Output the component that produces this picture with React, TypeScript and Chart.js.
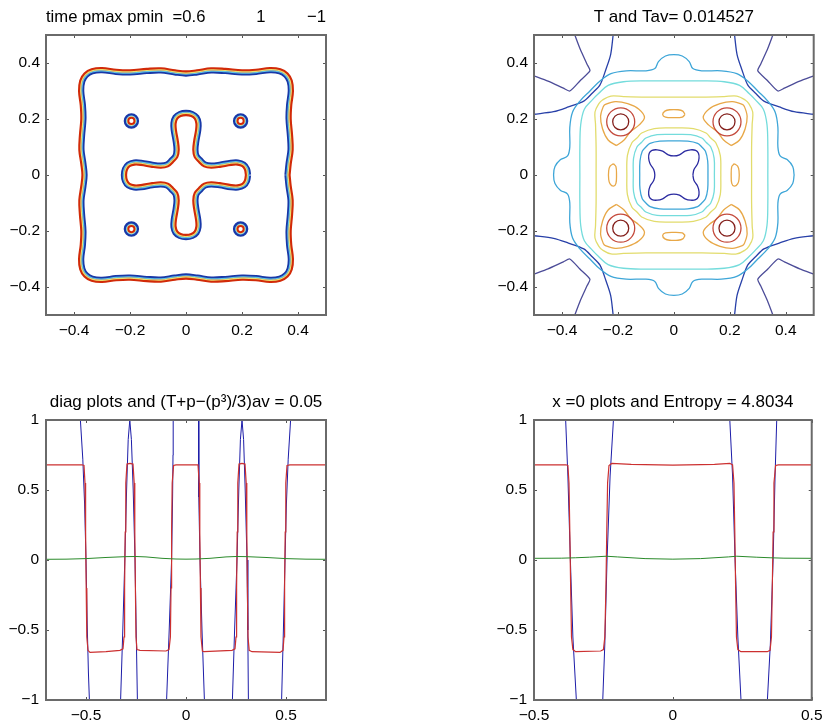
import React, { useEffect, useRef } from "react";
import { Chart, registerables } from "chart.js";

Chart.register(...registerables);

type P = [number, number];

const FONT = "'Liberation Sans', Arial, Helvetica, sans-serif";

// ---------------- titles ----------------
const titleA = "time pmax pmin  =0.6" + " ".repeat(11) + "1" + " ".repeat(9) + "\u22121";
const titleB = "T and Tav= 0.014527";
const titleC = "diag plots and (T+p\u2212(p\u00B3)/3)av = 0.05";
const titleD = "x =0 plots and Entropy = 4.8034";

// ---------------- tick values ----------------
const fieldTicks = [-0.4, -0.2, 0, 0.2, 0.4];
const diagXTicks = [-0.5, 0, 0.5];
const x0XTicks = [-0.5, 0, 0.5];
const lineYTicks = [-1, -0.5, 0, 0.5, 1];

// ---------------- panel A: phase field p (first-quadrant readings, 4-fold symmetric) ----------------
const squareQ: P[] = [
  [0.362, 0], [0.366, 0.04], [0.373, 0.09], [0.371, 0.14], [0.366, 0.2], [0.368, 0.25], [0.374, 0.3],
  [0.37, 0.335], [0.357, 0.357], [0.335, 0.37], [0.3, 0.374], [0.25, 0.368], [0.2, 0.366],
  [0.14, 0.371], [0.09, 0.373], [0.04, 0.366], [0, 0.362],
];
const crossQ: P[] = [
  [0.222, 0], [0.218, 0.022], [0.206, 0.038], [0.185, 0.045], [0.16, 0.044], [0.12, 0.037], [0.09, 0.034],
  [0.068, 0.038], [0.052, 0.052], [0.038, 0.068], [0.034, 0.09], [0.037, 0.12], [0.044, 0.16],
  [0.045, 0.185], [0.038, 0.206], [0.022, 0.218], [0, 0.222],
];
const dropCenters: P[] = [[-0.195, 0.193], [0.195, 0.193], [-0.195, -0.193], [0.195, -0.193]];

// ---------------- panel B: temperature T contours ----------------
const cornerSlateTL: P[] = [
  [-0.354, 0.5], [-0.335, 0.45], [-0.31, 0.395], [-0.3, 0.372], [-0.336, 0.336], [-0.372, 0.3],
  [-0.395, 0.31], [-0.45, 0.335], [-0.5, 0.354],
];
const cornerBlueTL: P[] = [
  [-0.217, 0.5], [-0.226, 0.43], [-0.243, 0.377], [-0.264, 0.322], [-0.292, 0.292], [-0.322, 0.264],
  [-0.377, 0.243], [-0.43, 0.226], [-0.5, 0.217],
];
const cyanOuterQ: P[] = [
  [0.43, 0], [0.425, 0.03], [0.405, 0.055], [0.38, 0.068], [0.372, 0.1], [0.372, 0.17], [0.362, 0.225],
  [0.335, 0.265], [0.3, 0.3], [0.265, 0.335], [0.225, 0.362], [0.17, 0.372], [0.1, 0.372],
  [0.068, 0.38], [0.055, 0.405], [0.03, 0.425], [0, 0.43],
];
const aquaOuterQ: P[] = [
  [0.336, 0], [0.336, 0.1], [0.333, 0.18], [0.32, 0.235], [0.29, 0.27], [0.27, 0.29], [0.235, 0.32],
  [0.18, 0.333], [0.1, 0.336], [0, 0.336],
];
const yellowOuterQ: P[] = [
  [0.278, 0], [0.278, 0.1], [0.28, 0.18], [0.282, 0.225], [0.268, 0.255], [0.255, 0.268], [0.225, 0.282],
  [0.18, 0.28], [0.1, 0.278], [0, 0.278],
];
const yellowInnerQ: P[] = [
  [0.168, 0], [0.166, 0.07], [0.15, 0.115], [0.132, 0.132], [0.115, 0.15], [0.07, 0.166], [0, 0.168],
];
const aquaInnerQ: P[] = [
  [0.145, 0], [0.144, 0.06], [0.132, 0.1], [0.116, 0.116], [0.1, 0.132], [0.06, 0.144], [0, 0.145],
];
const cyanInnerQ: P[] = [
  [0.122, 0], [0.121, 0.05], [0.113, 0.085], [0.1, 0.1], [0.085, 0.113], [0.05, 0.121], [0, 0.122],
];
const blueInnerQ: P[] = [
  [0.068, 0], [0.072, 0.02], [0.085, 0.04], [0.09, 0.06], [0.088, 0.078], [0.078, 0.088], [0.06, 0.09],
  [0.04, 0.085], [0.02, 0.072], [0, 0.068],
];
const orangeLobeQ1: P[] = [
  [0.205, 0.105], [0.235, 0.125], [0.255, 0.165], [0.262, 0.21], [0.252, 0.245], [0.245, 0.252],
  [0.21, 0.262], [0.165, 0.255], [0.125, 0.235], [0.105, 0.205], [0.125, 0.178], [0.155, 0.155],
  [0.178, 0.125], [0.205, 0.105],
];
const orangeOvalTop: P[] = [
  [0.04, 0.216], [0.032, 0.228], [0.015, 0.233], [-0.015, 0.233], [-0.032, 0.228], [-0.04, 0.216],
  [-0.03, 0.207], [0, 0.205], [0.03, 0.207], [0.04, 0.216],
];
const peakCenters: P[] = [[-0.19, 0.19], [0.19, 0.19], [-0.19, -0.19], [0.19, -0.19]];

// ---------------- panel C: diagonal profiles ----------------
const diagRed: P[] = [
  [-0.707, 0.68], [-0.52, 0.68], [-0.51, 0.675], [-0.505, 0.55], [-0.502, 0.2], [-0.499, -0.2], [-0.496, -0.55],
  [-0.49, -0.645], [-0.48, -0.66], [-0.4, -0.655], [-0.33, -0.645], [-0.315, -0.635], [-0.31, -0.55],
  [-0.307, -0.2], [-0.304, 0.2], [-0.301, 0.55], [-0.295, 0.685], [-0.28, 0.69], [-0.265, 0.685],
  [-0.259, 0.55], [-0.256, 0.2], [-0.253, -0.2], [-0.25, -0.55], [-0.245, -0.64], [-0.23, -0.645],
  [-0.1, -0.65], [-0.085, -0.64], [-0.078, -0.55], [-0.075, -0.2], [-0.072, 0.2], [-0.069, 0.55],
  [-0.062, 0.675], [-0.05, 0.68], [0.06, 0.68], [0.066, 0.55], [0.069, 0.2], [0.072, -0.2], [0.075, -0.55],
  [0.082, -0.65], [0.09, -0.655], [0.23, -0.645], [0.245, -0.635], [0.25, -0.55], [0.253, -0.2],
  [0.256, 0.2], [0.259, 0.55], [0.265, 0.685], [0.28, 0.69], [0.295, 0.685], [0.301, 0.55], [0.304, 0.2],
  [0.307, -0.2], [0.31, -0.55], [0.316, -0.645], [0.33, -0.655], [0.47, -0.66], [0.485, -0.645],
  [0.49, -0.55], [0.493, -0.2], [0.496, 0.2], [0.499, 0.55], [0.505, 0.675], [0.52, 0.68], [0.707, 0.68],
];
const diagBlue: P[] = [
  [-0.707, 2], [-0.56, 2], [-0.537, 1.3], [-0.528, 1.0], [-0.516, 0.72], [-0.507, 0.4], [-0.5, 0],
  [-0.494, -0.45], [-0.488, -0.8], [-0.483, -1.0], [-0.474, -1.4], [-0.455, -2],
  [-0.355, -2], [-0.336, -1.4], [-0.327, -1.0], [-0.316, -0.5], [-0.306, 0], [-0.297, 0.5], [-0.289, 0.86],
  [-0.281, 1.0], [-0.273, 0.86], [-0.264, 0.5], [-0.255, 0], [-0.249, -0.5], [-0.243, -1.0], [-0.235, -1.4],
  [-0.215, -2], [-0.125, -2], [-0.106, -1.4], [-0.097, -1.0], [-0.084, -0.5], [-0.072, 0], [-0.067, 0.45],
  [-0.065, 0.75], [-0.064, 1.0], [-0.058, 1.4], [-0.04, 2], [0.04, 2], [0.058, 1.4], [0.063, 1.0],
  [0.063, 0.75], [0.065, 0.45], [0.07, 0], [0.08, -0.5], [0.092, -1.0], [0.1, -1.4], [0.12, -2],
  [0.205, -2], [0.224, -1.4], [0.232, -1.0], [0.243, -0.5], [0.255, 0], [0.264, 0.5], [0.272, 0.86],
  [0.28, 1.0], [0.288, 0.86], [0.296, 0.5], [0.305, 0], [0.309, -0.5], [0.312, -1.0], [0.32, -1.4],
  [0.34, -2], [0.45, -2], [0.469, -1.4], [0.478, -1.0], [0.487, -0.5], [0.495, 0], [0.502, 0.4],
  [0.511, 0.72], [0.523, 1.0], [0.532, 1.3], [0.555, 2], [0.707, 2],
];
const diagGreen: P[] = [
  [-0.707, 0.005], [-0.6, 0.006], [-0.5, 0.01], [-0.4, 0.018], [-0.3, 0.024], [-0.25, 0.025], [-0.2, 0.022],
  [-0.12, 0.012], [-0.05, 0.007], [0, 0.006], [0.05, 0.007], [0.12, 0.012], [0.2, 0.022], [0.25, 0.025],
  [0.3, 0.024], [0.4, 0.018], [0.5, 0.01], [0.6, 0.006], [0.707, 0.005],
];

// ---------------- panel D: x = 0 profiles ----------------
const x0Red: P[] = [
  [-0.5, 0.68], [-0.385, 0.68], [-0.378, 0.675], [-0.374, 0.55], [-0.371, 0.2], [-0.368, -0.2],
  [-0.365, -0.55], [-0.36, -0.64], [-0.35, -0.655], [-0.26, -0.65], [-0.25, -0.64], [-0.245, -0.55],
  [-0.241, -0.2], [-0.238, 0.2], [-0.235, 0.55], [-0.23, 0.675], [-0.22, 0.69], [-0.15, 0.683],
  [0, 0.677], [0.15, 0.683], [0.205, 0.69], [0.215, 0.68], [0.22, 0.55], [0.223, 0.2], [0.226, -0.2],
  [0.229, -0.55], [0.234, -0.64], [0.245, -0.655], [0.34, -0.655], [0.35, -0.645], [0.355, -0.55],
  [0.358, -0.2], [0.361, 0.2], [0.364, 0.55], [0.37, 0.675], [0.38, 0.68], [0.5, 0.68],
];
const x0Blue: P[] = [
  [-0.5, 2], [-0.42, 2], [-0.395, 1.3], [-0.386, 1.0], [-0.378, 0.6], [-0.369, 0], [-0.36, -0.55],
  [-0.3475, -1.0], [-0.34, -1.3], [-0.32, -2], [-0.28, -2], [-0.26, -1.3], [-0.2524, -1.0], [-0.245, -0.6],
  [-0.237, 0], [-0.226, 0.6], [-0.214, 1.0], [-0.205, 1.3], [-0.18, 2], [0.17, 2], [0.195, 1.3],
  [0.205, 1.0], [0.215, 0.6], [0.224, 0], [0.234, -0.55], [0.2453, -1.0], [0.253, -1.3], [0.275, -2],
  [0.31, -2], [0.332, -1.3], [0.3404, -1.0], [0.351, -0.6], [0.361, 0], [0.368, 0.6], [0.374, 1.0],
  [0.382, 1.3], [0.41, 2], [0.5, 2],
];
const x0Green: P[] = [
  [-0.5, 0.012], [-0.4, 0.013], [-0.35, 0.016], [-0.3, 0.02], [-0.24, 0.027], [-0.2, 0.022], [-0.1, 0.01],
  [0, 0.006], [0.1, 0.01], [0.2, 0.022], [0.23, 0.027], [0.3, 0.02], [0.35, 0.016], [0.4, 0.013],
  [0.5, 0.012],
];

// ---------------- symmetry helpers (reflect the read quadrant) ----------------
const loopFromQuadrant = (q: P[]): P[] => [
  ...q,
  ...q.slice(0, -1).reverse().map(([x, y]) => [-x, y] as P),
  ...q.slice(1).map(([x, y]) => [-x, -y] as P),
  ...q.slice(0, -1).reverse().map(([x, y]) => [x, -y] as P),
];
const fourCorners = (c: P[]): P[][] => [
  c,
  c.map(([x, y]) => [-x, y] as P),
  c.map(([x, y]) => [x, -y] as P),
  c.map(([x, y]) => [-x, -y] as P),
];
const fourAxes = (c: P[]): P[][] => [
  c,
  c.map(([x, y]) => [x, -y] as P),
  c.map(([x, y]) => [y, x] as P),
  c.map(([x, y]) => [-y, x] as P),
];

// ---------------- dataset builders ----------------
const toXY = (pts: P[]) => pts.map(([x, y]) => ({ x, y }));
const line = (pts: P[], color: string, width: number, extra: any = {}) => ({
  data: toXY(pts),
  borderColor: color,
  borderWidth: width,
  pointRadius: 0,
  pointHoverRadius: 0,
  fill: false,
  tension: 0,
  clip: 0,
  ...extra,
});
const ring = (pts: P[], color: string, radius: number, width: number) => ({
  data: toXY(pts),
  showLine: false,
  pointRadius: radius,
  pointHoverRadius: radius,
  pointBorderWidth: width,
  pointBorderColor: color,
  pointBackgroundColor: "rgba(0,0,0,0)",
  borderColor: color,
  clip: 0,
});

const RED_P = "#d22a08";
const YEL_P = "#e8e070";
const CYA_P = "#5fc4e6";
const BLU_P = "#1838a8";

// band: red on the "p = +1" side, blue on the other side
const band = (pts: P[], redSide: "in" | "out") => {
  const blueSide = redSide === "in" ? "out" : "in";
  return [
    line(pts, BLU_P, 6, { side: blueSide, tension: 0.35 }),
    line(pts, RED_P, 6.6, { side: redSide, tension: 0.35 }),
    line(pts, CYA_P, 2.4, { side: blueSide, tension: 0.35 }),
    line(pts, YEL_P, 2.4, { side: redSide, tension: 0.35 }),
  ];
};

const datasetsA = [
  ...band(loopFromQuadrant(squareQ), "out"),
  ...band(loopFromQuadrant(crossQ), "in"),
  ring(dropCenters, BLU_P, 6.4, 2.6),
  ring(dropCenters, CYA_P, 5.0, 1),
  ring(dropCenters, YEL_P, 4.2, 1),
  ring(dropCenters, RED_P, 3.1, 2),
];

const C_SLATE = "#4c4c98";
const C_BLUE = "#2840a8";
const C_DBLUE = "#2a2aa0";
const C_CYAN = "#3ea6d8";
const C_AQUA = "#74dcdc";
const C_YEL = "#e2dc6c";
const C_ORA = "#e8a848";
const C_RED = "#c44a3c";
const C_DRED = "#84201c";
const TW = 1.3;

const datasetsB = [
  ...fourCorners(cornerSlateTL).map((c) => line(c, C_SLATE, TW, { tension: 0.2 })),
  ...fourCorners(cornerBlueTL).map((c) => line(c, C_BLUE, TW, { tension: 0.3 })),
  line(loopFromQuadrant(cyanOuterQ), C_CYAN, TW, { tension: 0.35 }),
  line(loopFromQuadrant(aquaOuterQ), C_AQUA, TW, { tension: 0.35 }),
  line(loopFromQuadrant(yellowOuterQ), C_YEL, TW, { tension: 0.35 }),
  line(loopFromQuadrant(yellowInnerQ), C_YEL, TW, { tension: 0.35 }),
  line(loopFromQuadrant(aquaInnerQ), C_AQUA, TW, { tension: 0.35 }),
  line(loopFromQuadrant(cyanInnerQ), C_CYAN, TW, { tension: 0.35 }),
  line(loopFromQuadrant(blueInnerQ), C_DBLUE, TW, { tension: 0.35 }),
  ...fourCorners(orangeLobeQ1).map((c) => line(c, C_ORA, TW, { tension: 0.35 })),
  ...fourAxes(orangeOvalTop).map((c) => line(c, C_ORA, TW, { tension: 0.35 })),
  ring(peakCenters, C_RED, 14, TW),
  ring(peakCenters, C_DRED, 8, TW),
];

const L_BLUE = "#1c1ca8";
const L_RED = "#cc3030";
const L_GREEN = "#2a8a2a";

const datasetsC = [
  line(diagBlue, L_BLUE, 1),
  line(diagRed, L_RED, 1.2),
  line(diagGreen, L_GREEN, 1),
];
const datasetsD = [
  line(x0Blue, L_BLUE, 1),
  line(x0Red, L_RED, 1.2),
  line(x0Green, L_GREEN, 1),
];

// ---------------- plugins ----------------
const bandClip = {
  id: "bandClip",
  beforeDatasetDraw(chart: any, args: any) {
    const ds = chart.data.datasets[args.index];
    if (!ds.side) return;
    const meta = args.meta;
    const el = meta.dataset;
    const ctx = chart.ctx;
    const a = chart.chartArea;
    ctx.save();
    ctx.beginPath();
    if (ds.side === "out") ctx.rect(a.left - 10, a.top - 10, a.right - a.left + 20, a.bottom - a.top + 20);
    let ok = false;
    try {
      el.updateControlPoints(a, meta.iAxis);
      el.path(ctx);
      ok = true;
    } catch (e) {
      ok = false;
    }
    if (!ok) {
      meta.data.forEach((p: any, i: number) => (i ? ctx.lineTo(p.x, p.y) : ctx.moveTo(p.x, p.y)));
    }
    ctx.closePath();
    ctx.clip(ds.side === "out" ? "evenodd" : "nonzero");
  },
  afterDatasetDraw(chart: any, args: any) {
    const ds = chart.data.datasets[args.index];
    if (ds.side) chart.ctx.restore();
  },
};

const matlabBox = {
  id: "matlabBox",
  afterDatasetsDraw(chart: any) {
    const { ctx, chartArea: a, scales } = chart;
    const tl = 3;
    ctx.save();
    ctx.strokeStyle = "#555555";
    ctx.lineWidth = 1;
    ctx.beginPath();
    for (const t of scales.x.ticks) {
      const px = Math.round(scales.x.getPixelForValue(t.value)) + 0.5;
      ctx.moveTo(px, a.bottom);
      ctx.lineTo(px, a.bottom - tl);
      ctx.moveTo(px, a.top);
      ctx.lineTo(px, a.top + tl);
    }
    for (const t of scales.y.ticks) {
      const py = Math.round(scales.y.getPixelForValue(t.value)) + 0.5;
      ctx.moveTo(a.left, py);
      ctx.lineTo(a.left + tl, py);
      ctx.moveTo(a.right, py);
      ctx.lineTo(a.right - tl, py);
    }
    ctx.stroke();
    ctx.strokeStyle = "#6a6a6a";
    ctx.lineWidth = 2;
    ctx.strokeRect(a.left, a.top, a.right - a.left, a.bottom - a.top);
    ctx.restore();
  },
};

// ---------------- config ----------------
const fmt = (v: number) => {
  const s = String(Math.round(Math.abs(v) * 1000) / 1000);
  return v < 0 ? "\u2212" + s : s;
};

interface Spec {
  left: number;
  top: number;
  width: number;
  height: number;
  yAxisW: number;
  xAxisH: number;
  padRight: number;
  title: string;
  tPadTop: number;
  tPadBottom: number;
  xMin: number;
  xMax: number;
  xTicks: number[];
  yMin: number;
  yMax: number;
  yTicks: number[];
  yPad: number;
  datasets: any[];
}

const axis = (min: number, max: number, ticks: number[], size: number, isX: boolean, pad: number) => ({
  type: "linear",
  position: isX ? "bottom" : "left",
  min,
  max,
  grid: { display: false, drawTicks: false, tickLength: 0 },
  border: { display: false },
  ticks: {
    autoSkip: false,
    maxRotation: 0,
    minRotation: 0,
    includeBounds: false,
    padding: pad,
    color: "#000",
    font: { family: FONT, size: 15.5 },
    callback: (v: any) => fmt(Number(v)),
  },
  afterBuildTicks: (s: any) => {
    s.ticks = ticks.map((v) => ({ value: v }));
  },
  afterFit: (s: any) => {
    if (isX) s.height = size;
    else s.width = size;
  },
});

const buildConfig = (s: Spec): any => ({
  type: "line",
  data: { datasets: [...s.datasets].reverse() },
  options: {
    responsive: false,
    animation: false,
    devicePixelRatio: 1,
    events: [],
    layout: { padding: { left: 0, top: 0, right: s.padRight, bottom: 0 } },
    elements: { line: { capBezierPoints: false } },
    plugins: {
      legend: { display: false },
      tooltip: { enabled: false },
      title: {
        display: true,
        text: s.title,
        fullSize: false,
        color: "#000",
        font: { family: FONT, size: 17, weight: "normal", lineHeight: 1.2 },
        padding: { top: s.tPadTop, bottom: s.tPadBottom },
      },
    },
    scales: {
      x: axis(s.xMin, s.xMax, s.xTicks, s.xAxisH, true, 6.5),
      y: axis(s.yMin, s.yMax, s.yTicks, s.yAxisW, false, s.yPad),
    },
  },
  plugins: [bandClip, matlabBox],
});

const specs: Spec[] = [
  {
    left: 0, top: 0, width: 360, height: 360, yAxisW: 46, xAxisH: 45, padRight: 34,
    title: titleA, tPadTop: 7.6, tPadBottom: 7,
    xMin: -0.5, xMax: 0.5, xTicks: fieldTicks, yMin: -0.5, yMax: 0.5, yTicks: fieldTicks, yPad: 6,
    datasets: datasetsA,
  },
  {
    left: 480, top: 0, width: 349, height: 360, yAxisW: 54, xAxisH: 45, padRight: 15,
    title: titleB, tPadTop: 7.6, tPadBottom: 7,
    xMin: -0.5, xMax: 0.5, xTicks: fieldTicks, yMin: -0.5, yMax: 0.5, yTicks: fieldTicks, yPad: 6,
    datasets: datasetsB,
  },
  {
    left: 0, top: 360, width: 360, height: 368, yAxisW: 46, xAxisH: 28, padRight: 34,
    title: titleC, tPadTop: 32.2, tPadBottom: 7.4,
    xMin: -0.7, xMax: 0.7, xTicks: diagXTicks, yMin: -1, yMax: 1, yTicks: lineYTicks, yPad: 7,
    datasets: datasetsC,
  },
  {
    left: 480, top: 360, width: 349, height: 368, yAxisW: 54, xAxisH: 28, padRight: 15,
    title: titleD, tPadTop: 32.2, tPadBottom: 7.4,
    xMin: -0.5, xMax: 0.5, xTicks: x0XTicks, yMin: -1, yMax: 1, yTicks: lineYTicks, yPad: 7,
    datasets: datasetsD,
  },
];

function Panel({ spec }: { spec: Spec }) {
  const ref = useRef<HTMLCanvasElement>(null);
  useEffect(() => {
    const chart = new Chart(ref.current as HTMLCanvasElement, buildConfig(spec));
    return () => chart.destroy();
  }, [spec]);
  return (
    <canvas
      ref={ref}
      width={spec.width}
      height={spec.height}
      style={{ position: "absolute", left: spec.left, top: spec.top, width: spec.width, height: spec.height }}
    />
  );
}

export default function App() {
  return (
    <div style={{ position: "absolute", left: 0, top: 0, width: 829, height: 728, background: "#fff", overflow: "hidden" }}>
      {specs.map((s, i) => (
        <Panel key={i} spec={s} />
      ))}
    </div>
  );
}
